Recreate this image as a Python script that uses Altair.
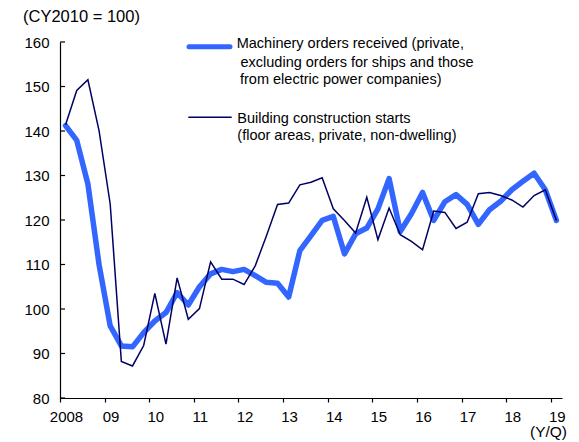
import altair as alt
import pandas as pd

# Quarterly periods 2008Q1 .. 2019Q1
periods = [f"{y}Q{q}" for y in range(2008, 2020) for q in range(1, 5)][:45]

machinery = [141.2, 137.9, 128.1, 110.0, 96.2, 91.7, 91.5, 94.7, 97.3, 99.2,
             103.7, 100.9, 105.0, 107.9, 108.9, 108.4, 108.9, 107.5, 106.0, 105.8,
             102.7, 113.1, 116.5, 119.9, 120.8, 112.4, 116.9, 118.2, 122.5, 129.3,
             117.4, 121.4, 126.2, 119.9, 124.1, 125.7, 123.5, 119.0, 122.3, 124.2,
             126.8, 128.7, 130.5, 126.8, 119.9]

building = [141.4, 149.1, 151.5, 140.1, 123.6, 88.2, 87.2, 91.8, 103.5, 92.1,
            107.0, 97.7, 100.1, 110.6, 106.7, 106.7, 105.5, 109.7, 116.4, 123.5,
            123.8, 127.9, 128.5, 129.5, 122.5, 119.9, 117.1, 125.1, 115.6, 122.7,
            116.7, 115.2, 113.3, 122.0, 121.7, 118.1, 119.5, 125.9, 126.2, 125.5,
            124.5, 122.9, 125.5, 126.8, 119.9]

y_tick_values = [80, 90, 100, 110, 120, 130, 140, 150, 160]
x_tick_years = list(range(2008, 2020))

legend_machinery = ["Machinery orders received (private,",
                    "excluding orders for ships and those",
                    "from electric power companies)"]
legend_building = ["Building construction starts",
                   "(floor areas, private, non-dwelling)"]
y_title = "(CY2010 = 100)"
x_title = "(Y/Q)"

FONT = "Liberation Sans"
BLUE = "#3366ff"
NAVY = "#000066"

df = pd.DataFrame({"period": periods, "machinery": machinery, "building": building})

x_scale = alt.Scale(domain=[2008, 2019.25], nice=False, zero=False)
y_scale = alt.Scale(domain=[80, 160], nice=False, zero=False)

x_axis = alt.Axis(values=x_tick_years,
                  labelExpr="datum.value == 2008 ? '2008' : slice(toString(datum.value), 2)",
                  tickSize=4, tickColor="black", tickWidth=1.2,
                  domainColor="black", domainWidth=1.2,
                  labelPadding=7, labelOffset=6, labelFlush=False, grid=False,
                  labelFontSize=15, title=None)
y_axis = alt.Axis(values=y_tick_values, ticks=False, grid=False,
                  domainColor="black", domainWidth=1.2, labelFlush=False,
                  labelPadding=11, labelFontSize=15, title=None)

base = alt.Chart(df).transform_calculate(
    t="toNumber(substring(datum.period, 0, 4)) + (toNumber(substring(datum.period, 5, 6)) - 0.5) / 4"
)

line_m = base.mark_line(color=BLUE, strokeWidth=5.5, strokeJoin="round", strokeCap="round").encode(
    x=alt.X("t:Q", scale=x_scale, axis=x_axis, title=None),
    y=alt.Y("machinery:Q", scale=y_scale, axis=y_axis, title=None),
)

line_b = base.mark_line(color=NAVY, strokeWidth=1.5, strokeJoin="miter").encode(
    x=alt.X("t:Q", scale=x_scale, axis=x_axis, title=None),
    y=alt.Y("building:Q", scale=y_scale, axis=y_axis, title=None),
)

ticks_y = alt.Chart(pd.DataFrame({"v": y_tick_values})).mark_rule(
    color="black", strokeWidth=1.2
).encode(
    x=alt.value(0), x2=alt.value(5),
    y=alt.Y("v:Q", scale=y_scale, axis=y_axis, title=None),
)

one = pd.DataFrame({"k": [0]})


def text_layer(txt, x, y, size=14.5, align="left"):
    return alt.Chart(pd.DataFrame({"txt": [txt]})).mark_text(
        align=align, baseline="alphabetic", font=FONT, fontSize=size, color="black"
    ).encode(x=alt.value(x), y=alt.value(y), text="txt:N")


leg_line_m = alt.Chart(one).mark_rule(color=BLUE, strokeWidth=5, strokeCap="round").encode(
    x=alt.value(129), x2=alt.value(170), y=alt.value(4.7)
)
leg_line_b = alt.Chart(one).mark_rule(color=NAVY, strokeWidth=1.5).encode(
    x=alt.value(128.3), x2=alt.value(171.7), y=alt.value(75.3)
)

layers = [line_m, line_b, ticks_y, leg_line_m, leg_line_b,
          text_layer(legend_machinery[0], 176.7, 6.3),
          text_layer(legend_machinery[1], 180.5, 24.7),
          text_layer(legend_machinery[2], 180.0, 42.3),
          text_layer(legend_building[0], 177.3, 80.7),
          text_layer(legend_building[1], 177.3, 98.0),
          text_layer(y_title, -37, -20.5, size=16.5),
          text_layer(x_title, 507, 395, size=15.5, align="right")]

chart = alt.layer(*layers).properties(
    width=502, height=356,
    padding={"left": 52, "top": 34, "right": 9, "bottom": 42},
    autosize=alt.AutoSizeParams(type="none"),
).configure_view(stroke=None).configure_axis(
    labelFont=FONT, labelColor="black"
)

chart.save("out.html", embed_options={"renderer": "svg", "actions": False})
